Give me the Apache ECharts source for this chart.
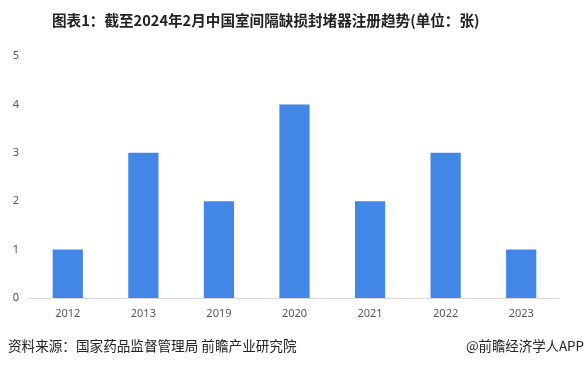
<!DOCTYPE html>
<html><head><meta charset="utf-8">
<script src="https://cdn.jsdelivr.net/npm/echarts@6/dist/echarts.min.js"></script>
<style>html,body{margin:0;padding:0;background:#fff}#c{width:585px;height:368px}</style>
</head><body><div id="c"></div>
<script>
const categories = ['2012','2013','2019','2020','2021','2022','2023'];
const values = [1,3,2,4,2,3,1];
const yTicks = [0,1,2,3,4,5];
const chart = echarts.init(document.getElementById('c'));
chart.setOption({
  animation:false,
  title:{text:'图表1：截至2024年2月中国室间隔缺损封堵器注册趋势(单位：张)',left:47,top:8,
    textStyle:{fontSize:14.6,fontWeight:'bold',color:'#222',fontFamily:'"Noto Sans CJK SC", sans-serif'}},
  graphic:[
    {type:'text',left:8,top:339,style:{text:'资料来源：国家药品监督管理局 前瞻产业研究院',font:'13.6px "Noto Sans CJK SC", sans-serif',fill:'#222'}},
    {type:'text',right:1,top:339,style:{text:'@前瞻经济学人APP',font:'13.4px "Noto Sans CJK SC", sans-serif',fill:'#222'}}
  ],
  grid:{left:30,right:26,top:56,bottom:70},
  xAxis:{type:'category',data:categories,axisTick:{show:false},
    axisLine:{lineStyle:{color:'#d9d9d9'}},
    axisLabel:{color:'#595959',fontSize:11,margin:10,fontFamily:'"Noto Sans", sans-serif'}},
  yAxis:{type:'value',min:yTicks[0],max:yTicks[yTicks.length-1],interval:1,
    splitLine:{show:false},axisLine:{show:false},axisTick:{show:false},
    axisLabel:{color:'#595959',fontSize:11,margin:11,fontFamily:'"Noto Sans", sans-serif'}},
  series:[{type:'bar',data:values,barWidth:'40%',itemStyle:{color:'#4287e6'}}]
});
</script></body></html>
